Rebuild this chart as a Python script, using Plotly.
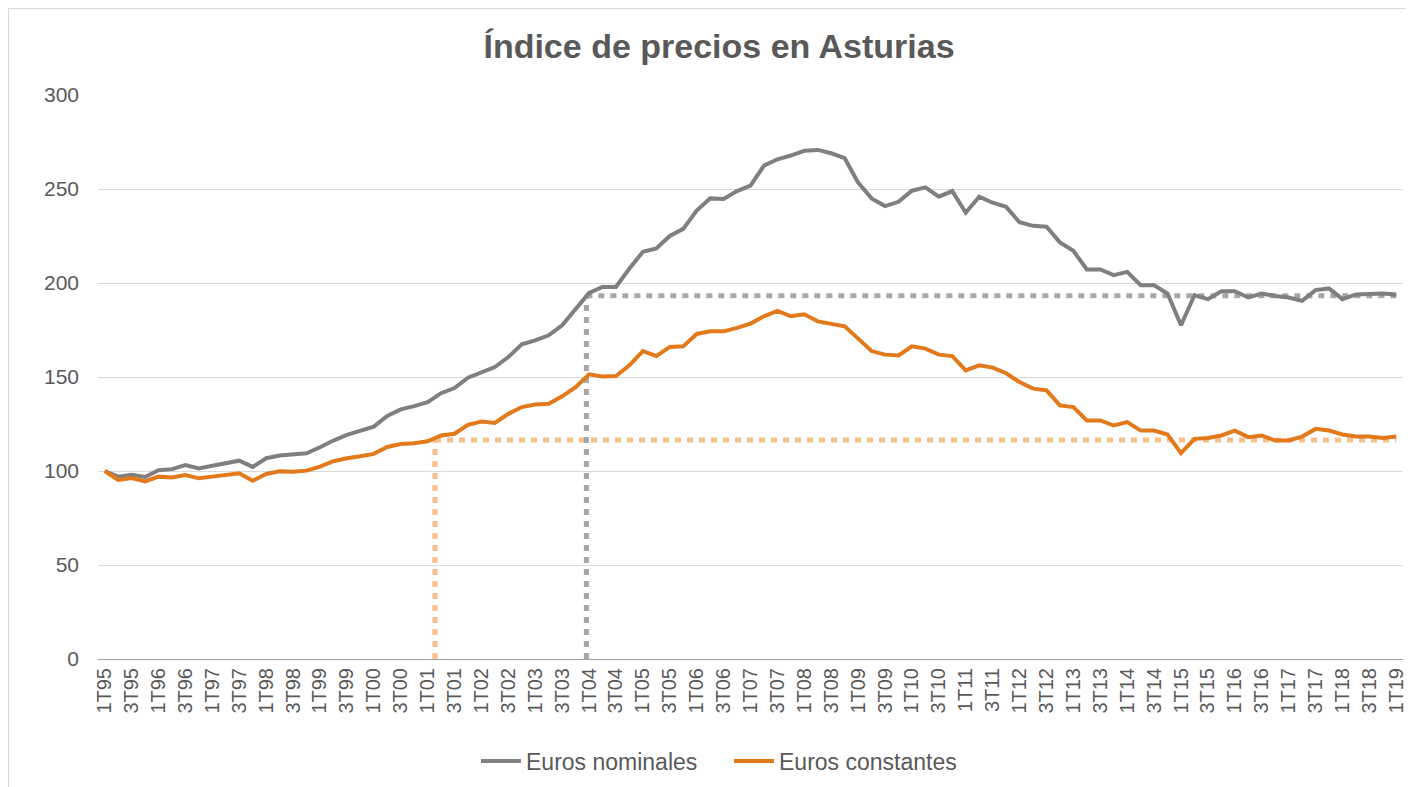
import plotly.graph_objects as go

# ---------------- data ----------------
years = [f"{y:02d}" for y in list(range(95, 100)) + list(range(0, 20))]
quarters = []
for y in years:
    for q in range(1, 5):
        quarters.append(f"{q}T{y}")
quarters = quarters[:97]  # 1T95 ... 1T19

tick_labels = quarters[::2]

euros_nominales = [
    100, 97, 98, 96.8, 100.4, 101, 103.2, 101.4, 102.8, 104,
    105.5, 102.2, 106.8, 108.2, 108.6, 109.4, 112.6, 116.2, 119.2, 121.3,
    123.6, 129.3, 132.8, 134.5, 136.6, 141.4, 144.1, 149.6, 152.6, 155.3,
    160.6, 167.4, 169.5, 172.2, 177.5, 186.4, 194.7, 197.9, 197.9, 207.7,
    216.6, 218.4, 225, 228.8, 238.5, 245, 244.7, 248.9, 251.8, 262.4,
    265.8, 267.8, 270.3, 270.8, 269, 266.4, 253.4, 245, 240.9, 243.2,
    249.1, 250.9, 245.9, 248.9, 237.4, 245.9, 242.7, 240.5, 232.3, 230.4,
    229.9, 221.6, 217.1, 207.2, 207.2, 204.2, 205.9, 198.8, 198.8, 194.4,
    177.5, 193.5, 191.4, 195.6, 195.6, 192.3, 194.4, 193.1, 192.3, 190.5,
    196.2, 197.1, 191.4, 193.9, 194.4, 194.4, 193.9,
]

euros_constantes = [
    100, 95.2, 96.3, 94.5, 97, 96.6, 97.9, 96.1, 97, 97.9,
    98.8, 94.8, 98.4, 99.8, 99.6, 100.2, 102.3, 105.2, 106.8, 107.8,
    109.1, 112.8, 114.4, 114.8, 115.8, 118.9, 119.8, 124.6, 126.3, 125.6,
    130.4, 134, 135.4, 135.8, 139.7, 144.6, 151.4, 150.3, 150.5, 156.2,
    163.8, 161.1, 166, 166.3, 172.9, 174.3, 174.3, 176.1, 178.4, 182.3,
    185.1, 182.3, 183.4, 179.6, 178.4, 177, 170.4, 163.8, 161.9, 161.5,
    166.3, 165.1, 161.9, 161.1, 153.5, 156.2, 155, 152, 147.3, 143.8,
    142.9, 134.9, 134, 126.9, 126.9, 124.2, 126, 121.5, 121.5, 119.4,
    109.5, 117.1, 117.6, 118.9, 121.5, 118, 118.9, 116.2, 116.2, 118.3,
    122.4, 121.5, 119.4, 118.3, 118.3, 117.6, 118.3,
]

# reference (dotted) guide lines: x position (category index) and level
ref_nominal_x, ref_nominal_level = 35.8, 193.2
ref_constant_x, ref_constant_level = 24.55, 116.5
ref_end_x = 96.0

# ---------------- styles ----------------
GREY = "#7F7F7F"
ORANGE = "#E2791B"
GREY_DOT = "#A6A6A6"
ORANGE_DOT = "#F9BF8C"
TEXT = "#595959"
FONT = "Arial, Liberation Sans, sans-serif"

W, H = 1414, 787
ML, MR, MT, MB = 90, 19, 87, 136
PW, PH = W - ML - MR, H - MT - MB

fig = go.Figure()
fig.add_trace(go.Scatter(x=quarters, y=euros_nominales, mode="lines",
                         name="Euros nominales",
                         line=dict(color=GREY, width=4)))
fig.add_trace(go.Scatter(x=quarters, y=euros_constantes, mode="lines",
                         name="Euros constantes",
                         line=dict(color=ORANGE, width=4)))

dot = "6px,6px"
shapes = [
    # orange guides
    dict(type="line", xref="x", yref="y", x0=ref_constant_x, x1=ref_constant_x,
         y0=0, y1=ref_constant_level, line=dict(color=ORANGE_DOT, width=5, dash=dot), layer="between"),
    dict(type="line", xref="x", yref="y", x0=ref_constant_x, x1=ref_end_x,
         y0=ref_constant_level, y1=ref_constant_level, line=dict(color=ORANGE_DOT, width=5, dash=dot), layer="between"),
    # grey guides
    dict(type="line", xref="x", yref="y", x0=ref_nominal_x, x1=ref_nominal_x,
         y0=0, y1=ref_nominal_level, line=dict(color=GREY_DOT, width=5, dash=dot), layer="between"),
    dict(type="line", xref="x", yref="y", x0=ref_nominal_x, x1=ref_end_x,
         y0=ref_nominal_level, y1=ref_nominal_level, line=dict(color=GREY_DOT, width=5, dash=dot), layer="between"),
    # chart border
    dict(type="rect", xref="paper", yref="paper",
         x0=(0.5 - ML) / PW, x1=(W - 0.5 - ML) / PW,
         y0=(MT + PH - (H + 5)) / PH, y1=(MT + PH - 0.5) / PH,
         line=dict(color="#D9D9D9", width=1), layer="below"),
]

fig.update_layout(
    width=W, height=H,
    margin=dict(l=ML, r=MR, t=MT, b=MB),
    paper_bgcolor="white", plot_bgcolor="white",
    font=dict(family=FONT, color=TEXT),
    title=dict(text="Índice de precios en Asturias",
               x=711 / W, xanchor="center", xref="container",
               y=1 - 38 / H, yanchor="middle", yref="container",
               font=dict(size=34, color=TEXT, family=FONT, weight="bold")),
    showlegend=True,
    legend=dict(orientation="h", xref="container", yref="container",
                x=468 / W, xanchor="left", y=1 - 753 / H, yanchor="middle",
                font=dict(size=23, color=TEXT, family=FONT),
                itemwidth=40, entrywidth=198, entrywidthmode="pixels",
                bgcolor="rgba(0,0,0,0)", traceorder="normal"),
    shapes=shapes,
    hovermode=False,
)

fig.update_xaxes(type="category", categoryorder="array", categoryarray=quarters,
                 range=[-0.5, len(quarters) - 0.5],
                 tickmode="array", tickvals=tick_labels, ticktext=tick_labels,
                 tickangle=-90, tickfont=dict(size=20, color=TEXT, family=FONT),
                 showgrid=False, showline=True, linecolor="#A0A0A0", linewidth=1,
                 ticks="", zeroline=False)
fig.update_yaxes(range=[0, 300], dtick=50, tick0=0,
                 tickfont=dict(size=21, color=TEXT, family=FONT),
                 showgrid=True, gridcolor="#D9D9D9", gridwidth=1,
                 zeroline=False, showline=False, ticks="", ticklabelstandoff=18)

fig.write_html("out.html")
